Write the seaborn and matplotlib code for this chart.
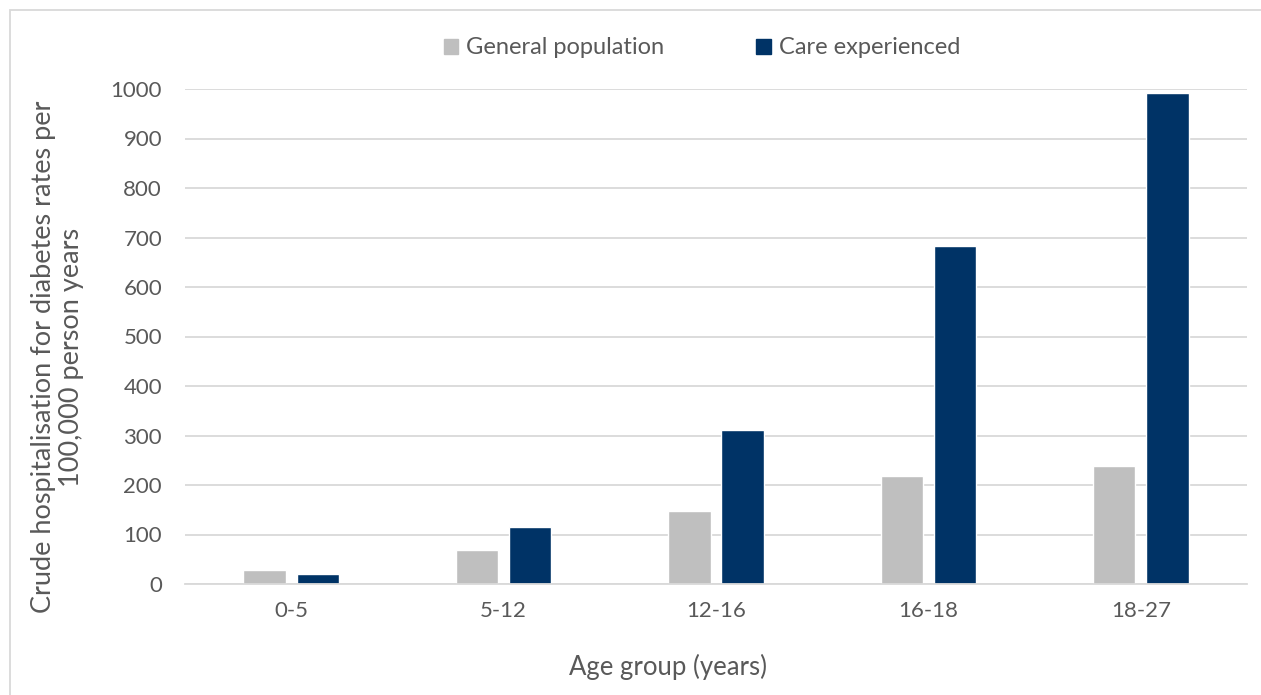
import numpy as np
import pandas as pd
import matplotlib
matplotlib.use("Agg")
import matplotlib.pyplot as plt
import seaborn as sns

# Chart data
age_groups = ["0-5", "5-12", "12-16", "16-18", "18-27"]
general_population = [28, 68, 147, 219, 238]
care_experienced = [20, 115, 311, 683, 991]
series_names = ["General population", "Care experienced"]
colors = ["#BFBFBF", "#003366"]

df = pd.DataFrame({
    "age": age_groups * 2,
    "rate": general_population + care_experienced,
    "group": [series_names[0]] * len(age_groups) + [series_names[1]] * len(age_groups),
})

sns.set_theme(style="white")
plt.rcParams["font.family"] = ["Lato", "DejaVu Sans"]
text_color = "#595959"

fig = plt.figure(figsize=(12.61, 6.95), dpi=100)
ax = fig.add_axes([185 / 1261, 1 - 584 / 695, (1247 - 185) / 1261, (584 - 89) / 695])

sns.barplot(data=df, x="age", y="rate", hue="group", order=age_groups,
            hue_order=series_names, palette=colors, width=0.5, gap=0.2,
            saturation=1, ax=ax, legend=False)

ax.set_xlim(-0.5, len(age_groups) - 0.5)
ax.set_ylim(0, 1000)
ax.set_yticks(np.arange(0, 1001, 100))
ax.yaxis.grid(True, color="#D9D9D9", linewidth=1.3)
ax.set_axisbelow(True)
for s in ["top", "right", "left"]:
    ax.spines[s].set_visible(False)
ax.spines["bottom"].set_color("#D9D9D9")
ax.spines["bottom"].set_linewidth(1.3)
ax.tick_params(axis="both", length=0, labelsize=16, labelcolor=text_color)
ax.tick_params(axis="y", pad=16.5)
ax.tick_params(axis="x", pad=12)

ax.set_xlabel("")
ax.set_ylabel("")
fig.text(668 / 1261, 1 - 667 / 695, "Age group (years)", ha="center", va="center",
         fontsize=18.5, color=text_color)
fig.text(58 / 1261, 1 - 357 / 695,
         "Crude hospitalisation for diabetes rates per\n100,000 person years",
         ha="center", va="center", rotation=90, fontsize=19.5, color=text_color,
         linespacing=1.15)

# legend
handles = [plt.Rectangle((0, 0), 1, 1, color=c) for c in colors]
fig.legend(handles, series_names, loc="center", bbox_to_anchor=(702 / 1261, 1 - 48 / 695),
           ncol=2, frameon=False, fontsize=17, labelcolor=text_color,
           handlelength=0.6, handleheight=0.6, handletextpad=0.35, columnspacing=3.9)

# outer frame
fig.patches.append(plt.Rectangle((10 / 1261, -0.1), 1.2, 1 - 10 / 695 + 0.1,
                                 transform=fig.transFigure, fill=False,
                                 edgecolor="#D9D9D9", linewidth=1.3))

fig.savefig("out.png", dpi=100)
